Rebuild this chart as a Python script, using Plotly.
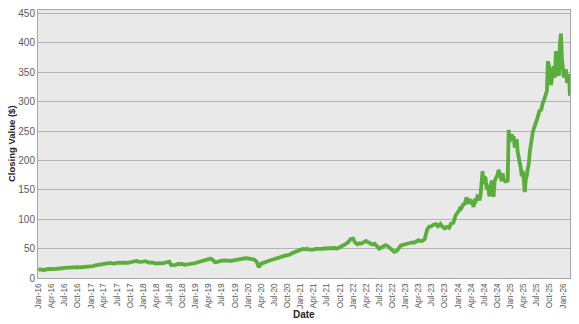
import pandas as pd
import plotly.graph_objects as go

# Semi-monthly closing values (1st and 15th of each month), Jan 2016 - Dec 2023
vals_2016 = [14.5, 13.8, 13.0, 13.6, 15.0, 15.8, 15.5, 15.2, 16.0, 15.8, 16.3, 16.6,
             17.2, 17.5, 18.3, 18.8, 18.5, 18.6, 18.4, 18.0, 18.2, 18.6, 19.0, 19.0]
vals_2017 = [19.5, 20.3, 21.5, 22.2, 22.8, 23.2, 23.5, 23.8, 25.0, 25.6, 25.0, 24.6,
             25.8, 26.2, 26.4, 26.8, 26.2, 25.8, 26.4, 27.0, 28.8, 29.0, 27.5, 27.2]
vals_2018 = [27.8, 28.6, 27.0, 26.0, 26.4, 25.0, 24.6, 25.3, 24.2, 24.8, 26.0, 26.8,
             27.8, 22.0, 21.6, 22.4, 23.8, 24.6, 24.0, 22.5, 23.0, 23.8, 24.6, 24.0]
vals_2019 = [25.5, 26.8, 27.8, 28.6, 29.6, 30.8, 32.4, 33.0, 30.5, 27.0, 27.6, 29.2,
             29.6, 30.0, 29.0, 29.4, 29.0, 29.8, 30.5, 30.8, 32.0, 32.6, 33.4, 33.8]
vals_2020 = [33.5, 33.0, 32.8, 31.2, 27.5, 18.5, 24.5, 26.5, 27.0, 28.5, 30.0, 31.5,
             32.5, 33.5, 34.5, 35.6, 37.0, 38.0, 39.0, 39.5, 42.0, 43.5, 45.5, 47.0]
vals_2021 = [48.0, 49.5, 48.8, 49.8, 48.2, 47.6, 48.3, 49.4, 49.0, 50.0, 49.6, 50.2,
             50.6, 49.8, 51.5, 52.0, 51.0, 50.2, 51.8, 54.0, 56.5, 58.5, 61.5, 66.5]
vals_2022 = [67.0, 60.5, 57.5, 59.0, 58.5, 60.5, 63.0, 61.0, 58.0, 57.0, 58.5, 54.0,
             50.0, 51.5, 54.5, 56.0, 54.0, 50.5, 47.0, 44.5, 46.0, 50.5, 55.5, 56.5]
vals_2023 = [57.0, 58.5, 59.5, 60.5, 60.0, 61.5, 64.5, 63.0, 63.5, 66.5, 82.0, 87.5,
             88.0, 90.5, 91.5, 88.0, 92.0, 87.5, 84.5, 87.0, 85.5, 93.0, 94.0, 106.0]

# Weekly closing values (Fridays), Jan 5 2024 - Feb 20 2026
vals_2024 = [112, 116, 121, 119, 122, 127, 124, 129, 137, 133, 126, 134, 132,
             128, 126, 121, 131, 130, 134, 139, 138, 132, 141, 178, 182, 160,
             171, 170, 152, 158, 145, 139, 158, 163, 162, 138, 165, 168, 172,
             176, 184, 180, 172, 165, 178, 166, 168, 162, 168, 163, 252, 232]
vals_2025 = [236, 244, 238, 241, 222, 230, 236, 214, 205, 200, 188, 173, 182,
             168, 146, 168, 174, 186, 194, 215, 230, 238, 248, 254, 258, 264,
             270, 274, 281, 286, 284, 293, 298, 302, 306, 312, 318, 369, 362,
             355, 328, 338, 347, 360, 341, 386, 368, 355, 344, 400, 416, 372]
vals_2026 = [350, 341, 350, 355, 332, 340, 347, 310]

semi_vals = vals_2016 + vals_2017 + vals_2018 + vals_2019 + vals_2020 + vals_2021 + vals_2022 + vals_2023
weekly_vals = vals_2024 + vals_2025 + vals_2026

semi_dates = pd.date_range("2016-01-01", periods=len(semi_vals), freq="SMS")
weekly_dates = pd.date_range("2024-01-05", periods=len(weekly_vals), freq="7D")

dates = list(semi_dates) + list(weekly_dates)
values = semi_vals + weekly_vals

y_ticks = [0, 50, 100, 150, 200, 250, 300, 350, 400, 450]

FONT = "Liberation Sans, Arial, sans-serif"
GRID = "#B4B4B4"
BORDER = "#A6A6A6"
TXT = "#595959"

fig = go.Figure()
fig.add_trace(go.Scatter(
    x=dates, y=values, mode="lines",
    line=dict(color="#5AAE3C", width=3.8),
    hoverinfo="skip", showlegend=False,
))

fig.update_layout(
    width=579, height=324,
    margin=dict(l=38, r=9, t=10, b=46),
    paper_bgcolor="white",
    plot_bgcolor="#E9E9E9",
    font=dict(family=FONT, color=TXT),
    xaxis=dict(
        type="date",
        range=["2015-12-30", "2026-02-20"],
        tick0="2016-01-01", dtick="M3",
        tickformat="%b-%y", tickangle=-90,
        tickfont=dict(size=8.3, color=TXT, family=FONT),
        showgrid=False, zeroline=False,
        showline=True, linecolor=BORDER, linewidth=1, mirror=True,
        ticks="", ticklabelstandoff=1,
    ),
    yaxis=dict(
        range=[0, 456],
        tickvals=y_ticks,
        tickfont=dict(size=10, color=TXT, family=FONT),
        showgrid=True, gridcolor=GRID, gridwidth=1,
        zeroline=False,
        showline=True, linecolor=BORDER, linewidth=1, mirror=True,
        ticks="",
    ),
    annotations=[
        dict(text="<b>Closing Value ($)</b>", xref="paper", yref="paper",
             x=(11 - 38) / 532, y=0.5, xanchor="center", yanchor="middle",
             textangle=-90, showarrow=False,
             font=dict(size=9.5, color="#262626", family=FONT)),
        dict(text="<b>Date</b>", xref="paper", yref="paper",
             x=0.5, y=(278 - 314) / 268, xanchor="center", yanchor="middle",
             showarrow=False,
             font=dict(size=10, color="#262626", family=FONT)),
    ],
)

fig.write_html("out.html")
